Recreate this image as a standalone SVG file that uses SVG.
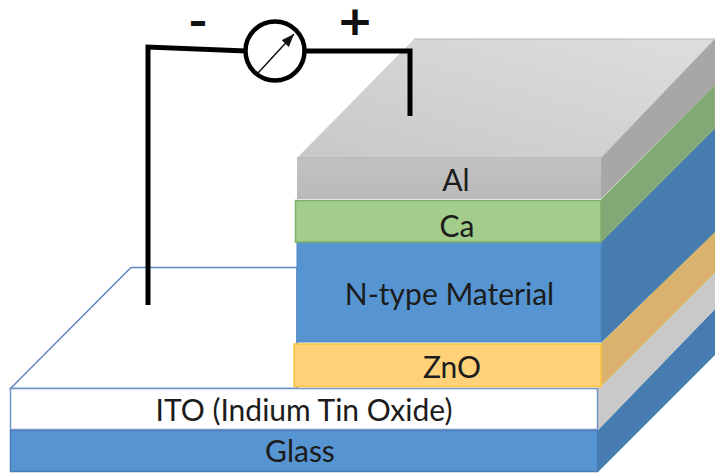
<svg xmlns="http://www.w3.org/2000/svg" width="715" height="473" viewBox="0 0 715 473">
<style>
.t{font-family:Lato,"Open Sans",sans-serif;font-size:30px;fill:#1c1c1c;text-anchor:middle}
.w{fill:none;stroke:#000;stroke-width:5}
.p{font-family:"DejaVu Sans",sans-serif;fill:#111;text-anchor:middle}
</style>
<defs>
<linearGradient id="gTop" x1="1" y1="0" x2="0" y2="1"><stop offset="0" stop-color="#dedede"/><stop offset="1" stop-color="#c8c8c8"/></linearGradient>
<linearGradient id="gAl" x1="0" y1="0" x2="0" y2="1"><stop offset="0" stop-color="#c2c2c2"/><stop offset="1" stop-color="#b9b9b9"/></linearGradient>
<marker id="tip" markerWidth="14" markerHeight="12" refX="13" refY="5" orient="auto" markerUnits="userSpaceOnUse"><path d="M0 0L13 5L0 10Z" fill="#111"/></marker>
</defs>
<rect width="715" height="473" fill="#fff"/>
<g id="glass">
<polygon points="598,430 715,309 715,355 598,472" fill="#477cb0"/>
<rect x="10.500" y="430.500" width="587" height="41" fill="#5795d2" stroke="#4a7db5" stroke-width="1.500"/>
<text class="t" x="300" y="462">Glass</text>
</g>
<g id="ito">
<polygon points="598,388 715,272 715,309 598,430" fill="#c9c9c9"/>
<polygon points="10.500,388.500 131,267.500 297,267.500 297,388.500" fill="#fff" stroke="#6187bf" stroke-width="1.500"/>
<rect x="10.500" y="388.500" width="587" height="41" fill="#fff" stroke="#7093c8" stroke-width="1.500"/>
<text class="t" x="304" y="421">ITO (Indium Tin Oxide)</text>
</g>
<g id="zno">
<polygon points="601,344 715,232 715,272 601,386" fill="#d9b36d" stroke="#e0bb50" stroke-width="1"/>
<rect x="294" y="344" width="307" height="42.500" fill="#ffd27a" stroke="#f9c33f" stroke-width="1.500"/>
<text class="t" x="452" y="378">ZnO</text>
</g>
<g id="ntype">
<polygon points="601,242 715,128 715,232 601,343" fill="#477cb0"/>
<rect x="297" y="242" width="304" height="100" fill="#5795d2" stroke="#5088c4" stroke-width="1"/>
<text class="t" x="449.500" y="305">N-type Material</text>
</g>
<g id="ca">
<polygon points="601,200 715,85 715,128 601,242" fill="#83a875" stroke="#8cba79" stroke-width="1"/>
<rect x="295.500" y="200.500" width="305.500" height="41.500" fill="#a2cd8a" stroke="#7dae68" stroke-width="1.500"/>
<text class="t" x="457" y="237">Ca</text>
</g>
<g id="al">
<polygon points="297,158 414,39 715,39 601,158" fill="url(#gTop)"/>
<polygon points="601,158 715,39 715,85 601,199" fill="#a7a7a7"/>
<rect x="297" y="158" width="304" height="41" fill="url(#gAl)"/>
<path d="M297 158H601L715 39M414 39H715" fill="none" stroke="#b5b5b5" stroke-width="1"/>
<text class="t" x="456" y="191">Al</text>
</g>
<g id="meter">
<circle cx="275" cy="51" r="29.500" fill="#fff" stroke="#000" stroke-width="4.500"/>
<line x1="258" y1="73" x2="294" y2="34" stroke="#111" stroke-width="1.500" marker-end="url(#tip)"/>
</g>
<g id="connectors">
<path class="w" d="M148 305V47L246 51"/>
<path class="w" d="M306 51H410V116"/>
</g>
<g id="polarity">
<text class="p" x="198" y="34" font-size="36" font-weight="700" textLength="19" lengthAdjust="spacingAndGlyphs">-</text>
<text class="p" x="355" y="34" font-size="36.500" stroke="#111" stroke-width="1.800" textLength="34" lengthAdjust="spacingAndGlyphs">+</text>
</g>
</svg>
